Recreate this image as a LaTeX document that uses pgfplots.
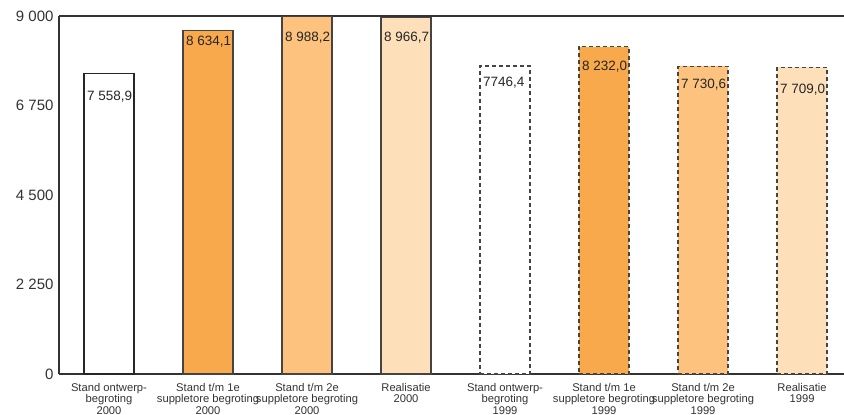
\documentclass[border=0pt]{standalone}
\usepackage{fontspec}
\setmainfont{Liberation Sans}
\usepackage{pgfplots}
\pgfplotsset{compat=1.18}
\definecolor{oA}{HTML}{F8A94B}
\definecolor{oB}{HTML}{FCC27E}
\definecolor{oC}{HTML}{FDDFB9}
\definecolor{axc}{HTML}{333333}
\definecolor{edge}{HTML}{444444}
\begin{document}
\begin{tikzpicture}
\begin{axis}[
  name=ax,
  scale only axis, width=785pt, height=358pt,
  xmin=-0.505, xmax=7.424, ymin=0, ymax=9000,
  axis x line=box, axis y line=left,
  axis line style={-, line width=2.6pt, color=axc},
  ytick={0,2250,4500,6750,9000},
  yticklabels={0,2 250,4 500,6 750,9 000},
  yticklabel style={font=\fontsize{15}{15}\selectfont, color=axc, xshift=-2pt},
  xtick={0,1,2,3,4,5,6,7},
  xticklabels={{Stand ontwerp-\\begroting\\2000},{Stand t/m 1e\\suppletore begroting\\2000},{Stand t/m 2e\\suppletore begroting\\2000},{Realisatie\\2000},{Stand ontwerp-\\begroting\\1999},{Stand t/m 1e\\suppletore begroting\\1999},{Stand t/m 2e\\suppletore begroting\\1999},{Realisatie\\1999}},
  xticklabel style={font=\fontsize{11.2}{11.2}\selectfont, align=center, color=axc, anchor=north, yshift=-6pt},
  major tick length=0pt,
  clip=false,
]
\addplot[ybar, bar width=50pt, bar shift=0pt, fill=white, draw=black!85, line width=1.2pt] coordinates {(0,7558.9)};
\addplot[ybar, bar width=50pt, bar shift=0pt, fill=oA, draw=edge, line width=1.2pt] coordinates {(1,8634.1)};
\addplot[ybar, bar width=50pt, bar shift=0pt, fill=oB, draw=edge, line width=1.2pt] coordinates {(2,8988.2)};
\addplot[ybar, bar width=50pt, bar shift=0pt, fill=oC, draw=edge, line width=1.2pt] coordinates {(3,8966.7)};
\addplot[ybar, bar width=50pt, bar shift=0pt, fill=white, draw=edge, line width=1.3pt, dash pattern=on 4pt off 3pt] coordinates {(4,7746.4)};
\addplot[ybar, bar width=50pt, bar shift=0pt, fill=oA, draw=edge, line width=1.3pt, dash pattern=on 4pt off 3pt] coordinates {(5,8232.0)};
\addplot[ybar, bar width=50pt, bar shift=0pt, fill=oB, draw=edge, line width=1.3pt, dash pattern=on 4pt off 3pt] coordinates {(6,7730.6)};
\addplot[ybar, bar width=50pt, bar shift=0pt, fill=oC, draw=edge, line width=1.3pt, dash pattern=on 4pt off 3pt] coordinates {(7,7709.0)};
\addplot[only marks, mark=*, mark size=0pt, mark options={draw=none, fill=none},
  point meta=explicit symbolic, nodes near coords,
  nodes near coords style={anchor=west, inner sep=0pt, xshift=-22pt, font=\fontsize{13.5}{13.5}\selectfont, text=black!85}]
  coordinates {
  (0,6983) [7 558,9]
  (1,8345) [8 634,1]
  (2,8445) [8 988,2]
  (3,8445) [8 966,7]
  (4,7336) [7746,4]
  (5,7739) [8 232,0]
  (6,7286) [7 730,6]
  (7,7160) [7 709,0]
  };
\end{axis}
\pgfresetboundingbox
\path ([shift={(-59pt,-41pt)}]ax.south west) rectangle ([shift={(0pt,16pt)}]ax.north east);
\end{tikzpicture}
\end{document}
